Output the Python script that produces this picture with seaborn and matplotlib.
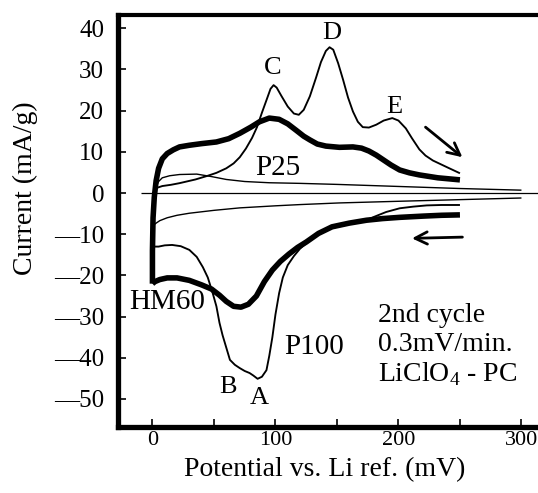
import pandas as pd
import matplotlib
matplotlib.use("Agg")
import matplotlib.pyplot as plt
from matplotlib.ticker import FuncFormatter
import seaborn as sns

# potential (mV) / current (mA/g), one list per branch
hm60_ox_x = [0, 0, 0.5, 1.5, 3, 5, 8, 12, 17, 22, 30, 40, 52, 62, 71, 80, 87, 95, 103, 110,
             117, 123, 128, 134, 141, 152, 163, 170, 176, 182, 187, 194, 201, 209, 217, 232, 250]
hm60_ox_y = [-22, -14, -6, -1, 3, 6, 8.3, 9.6, 10.5, 11.2, 11.6, 12, 12.4, 13.2, 14.5, 16, 17.3, 18.2, 17.9, 16.8,
             15.2, 13.8, 12.9, 11.9, 11.4, 11.1, 11.2, 10.9, 10.2, 9.2, 8.2, 6.8, 5.6, 4.9, 4.4, 3.7, 3.2]
hm60_red_x = [250, 235, 220, 201, 187, 174, 160, 146, 135, 125, 118, 111, 104, 97.5, 91, 84.5, 78, 72, 66,
              60, 54.5, 48, 40, 30, 20, 12, 6, 2, 0]
hm60_red_y = [-5.3, -5.4, -5.6, -5.9, -6.2, -6.6, -7.3, -8.2, -9.8, -11.9, -13.2, -14.8, -16.6, -18.7, -21.5, -25, -27, -27.7, -27.5,
              -26.3, -24.8, -23.3, -22.3, -21.2, -20.6, -20.6, -21, -21.5, -22]

p100_ox_x = [0, 0.5, 1.5, 3, 8, 15, 22, 35, 45, 52, 60, 66, 71, 76, 81, 85, 89, 93, 96, 98.5, 101, 105, 110, 115,
             119, 123, 128, 133, 137, 141, 144, 147, 151, 155, 159, 163, 167, 171, 176, 182, 188, 195, 200,
             206, 211, 217, 222, 228, 240, 250]
p100_ox_y = [-13, -5, -1, 1.2, 1.7, 2, 2.4, 3.3, 4.2, 4.9, 6, 7.2, 8.7, 10.8, 13.4, 16, 19.5, 22.8, 25.3, 26.2, 25.6, 23.5, 21, 19.3,
             19, 20.2, 23.5, 28, 31.8, 34.5, 35.4, 34.8, 31.5, 27.5, 23.2, 19.8, 17.3, 16, 15.9, 16.6, 17.6, 18.2, 17.6,
             15.7, 13.3, 10.6, 9.1, 7.9, 6.2, 4.8]
p100_red_x = [250, 235, 223, 212, 201, 190, 180, 174, 160, 146, 135, 125, 120, 115, 110, 106, 103, 100, 97.5, 95,
              92.7, 89, 85.5, 82, 79, 75, 71, 67, 63, 60, 57, 54.5, 52, 49, 45, 41, 36, 30, 23, 16, 10, 5, 0]
p100_red_y = [-2.9, -2.9, -3.0, -3.3, -3.7, -4.6, -5.8, -6.6, -7.5, -8.5, -10.0, -12.2, -13.5, -15.3, -17.5, -20.5, -24.3, -29.5, -35, -39.5,
              -43, -44.6, -45.1, -44.3, -43.7, -43.2, -42.5, -41.7, -40.5, -37.5, -34.5, -31.5, -27.5, -24.3, -20.5, -18, -15.5, -13.8, -12.9, -12.6, -12.7, -13, -13]

p25_ox_x = [0, 0.5, 1.5, 3, 5, 8, 14, 22, 36, 48, 60, 75, 95, 120, 150, 200, 250, 300]
p25_ox_y = [-8, -3, 0, 1.5, 2.8, 3.7, 4.2, 4.5, 4.6, 4.0, 3.3, 2.8, 2.5, 2.35, 2.1, 1.6, 1.1, 0.7]
p25_red_x = [300, 250, 200, 152, 120, 100, 71, 50, 30, 20, 12, 6, 3, 0]
p25_red_y = [-1.2, -1.6, -2.0, -2.4, -2.8, -3.1, -3.6, -4.2, -4.9, -5.4, -6.0, -6.7, -7.3, -8]

peak_labels = ["C", "D", "E", "B", "A"]
peak_x = [98, 146, 197, 61.8, 86.6]
peak_y = [30.3, 38.8, 20.9, -47.2, -49.7]

sample_labels = ["P25", "HM60", "P100"]
sample_x = [102, 11.8, 131.5]
sample_y = [6.0, -26.4, -37.3]

info_lines = ["2nd cycle", "0.3mV/min.", r"LiClO$_\mathregular{4}$ - PC"]
info_y = [-31.4, -38.4, -45.7]

branches = [
    ("P25", "ox", p25_ox_x, p25_ox_y), ("P25", "red", p25_red_x, p25_red_y),
    ("P100", "ox", p100_ox_x, p100_ox_y), ("P100", "red", p100_red_x, p100_red_y),
    ("HM60", "ox", hm60_ox_x, hm60_ox_y), ("HM60", "red", hm60_red_x, hm60_red_y),
]
rows = []
for name, br, xs, ys in branches:
    for i, (a, b) in enumerate(zip(xs, ys)):
        rows.append({"sample": name, "branch": br, "order": i, "potential": a, "current": b})
df = pd.DataFrame(rows)

sns.set_theme(style="ticks")
plt.rcParams["font.family"] = ["Liberation Serif", "DejaVu Serif"]
plt.rcParams["mathtext.fontset"] = "custom"
plt.rcParams["mathtext.rm"] = "Liberation Serif"

fig = plt.figure(figsize=(5.38, 4.93), dpi=100)
# axes runs off the right edge, the scan is cut there
ax = fig.add_axes([118 / 538, 1 - 427 / 493, 446.5 / 538, (427 - 14.7) / 493])

widths = {"P25": 1.0, "P100": 1.35, "HM60": 4.0}
for (name, br), sub in df.groupby(["sample", "branch"]):
    sns.lineplot(data=sub, x="potential", y="current", sort=False, estimator=None,
                 color="black", lw=widths[name], ax=ax, legend=False,
                 solid_joinstyle="round", solid_capstyle="butt")

ax.hlines(0, -9, 335, color="black", lw=0.9)

ax.set_xlim(-28, 335)
ax.set_ylim(-56.8, 43.3)
ax.set_xticks([0, 100, 200, 300])
ax.set_xticks([50, 150, 250], minor=True)
ax.set_yticks(range(-50, 41, 10))
# long dash for the minus, like the original print
ax.yaxis.set_major_formatter(FuncFormatter(lambda v, p: ("\u2014" + f"{-v:.0f}") if v < 0 else f"{v:.0f}"))
ax.tick_params(axis="both", which="both", direction="in", length=6, width=1.2, color="black",
               labelcolor="black")
ax.tick_params(axis="y", pad=10, labelsize=18)
ax.tick_params(axis="x", pad=3, labelsize=16)

for side in ["left", "bottom"]:
    ax.spines[side].set_linewidth(3.8)
ax.spines["top"].set_linewidth(3.0)
ax.spines["right"].set_visible(False)
for s in ax.spines.values():
    s.set_color("black")

ax.set_xlabel("Potential vs. Li ref. (mV)", fontsize=20, color="black")
ax.set_ylabel("Current (mA/g)", fontsize=20, color="black")
ax.xaxis.set_label_coords(0.4625, -0.104)
ax.xaxis.label.set_va("center")
ax.yaxis.set_label_coords(-0.208, 0.58)
ax.yaxis.label.set_va("center")

for t, x, y in zip(peak_labels, peak_x, peak_y):
    ax.text(x, y, t, fontsize=19, ha="center", va="center", color="black")
for t, x, y in zip(sample_labels, sample_x, sample_y):
    ax.text(x, y, t, fontsize=21, ha="center", va="center", color="black")
for t, y in zip(info_lines, info_y):
    ax.text(183.3, y, t, fontsize=20, ha="left", va="baseline", color="black")

arrow = dict(arrowstyle="->", color="black", lw=2.0, mutation_scale=22, shrinkA=0, shrinkB=0)
ax.annotate("", xy=(252, 8.7), xytext=(222, 16), arrowprops=arrow)
ax.annotate("", xy=(211, -11.0), xytext=(252, -10.7), arrowprops=arrow)

fig.savefig("out.png", dpi=100)
